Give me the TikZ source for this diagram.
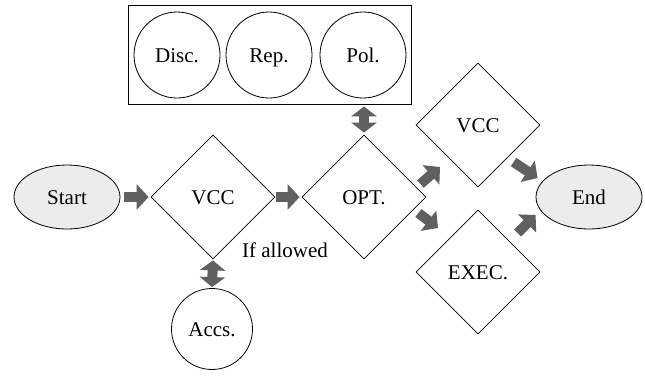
\documentclass[tikz,border=0pt]{standalone}
\usepackage{fontspec}
\setmainfont{Liberation Serif}
\usetikzlibrary{shapes.geometric,arrows.meta}
\definecolor{arrgray}{HTML}{606060}
\definecolor{ellfill}{HTML}{ECECEC}
\begin{document}
\begin{tikzpicture}[x=1pt,y=-1pt,
  every node/.style={font=\fontsize{21}{25}\selectfont},
  txt/.style={text height=18pt,text depth=4pt},
  dia/.style={draw,line width=0.8pt,diamond,aspect=1,inner sep=0pt,minimum width=124pt,minimum height=124pt,txt},
  ell/.style={draw,line width=0.8pt,ellipse,fill=ellfill,inner sep=0pt,minimum width=106pt,minimum height=64pt,txt},
  circ/.style={draw,line width=0.8pt,circle,inner sep=0pt,minimum size=#1,txt},
  blk/.style={draw=arrgray,line width=10pt,-{Triangle[width=25pt,length=12pt]}},
  dbl/.style={draw=arrgray,line width=10pt,{Triangle[width=25pt,length=10pt]}-{Triangle[width=25pt,length=10pt]}}
]
\useasboundingbox (0,0) rectangle (645,376);
% box with circles
\node[draw,line width=0.8pt,minimum width=283pt,minimum height=99pt,inner sep=0pt] (box) at (269.5,54.5) {};
\node[circ=86pt] (disc) at (177,55) {Disc.};
\node[circ=86pt] (rep) at (269,55) {Rep.};
\node[circ=86pt] (pol) at (363,55) {Pol.};
% main flow
\node[ell] (start) at (67,197) {Start};
\node[dia] (vcc1) at (213,197) {VCC};
\node[dia] (opt) at (364,197) {OPT.};
\node[dia] (vcc2) at (478,125) {VCC};
\node[dia] (exec) at (478,272) {EXEC.};
\node[ell] (end) at (589,197) {End};
\node[circ=81pt] (accs) at (212,329) {Accs.};
\node (lbl) at (285,250) {If allowed};
% arrows
\draw[blk,shorten <=4pt,shorten >=2pt] (start) -- (vcc1);
\draw[blk,shorten <=1pt,shorten >=2pt] (vcc1) -- (opt);
\draw[dbl,shorten <=2pt,shorten >=2pt] (opt.north) -- (opt.north |- box.south);
\draw[dbl,shorten <=1pt,shorten >=1pt] (vcc1.south) -- (accs.north);
\draw[blk] ([shift={(-6,-13)}]opt.east) -- ([shift={(-38,42)}]vcc2.center);
\draw[blk] ([shift={(-8,16)}]opt.east) -- ([shift={(-40,-44)}]exec.center);
\draw[blk] ([shift={(-22,-35)}]end.west) -- ([shift={(2,-19)}]end.west);
\draw[blk] ([shift={(-18,36)}]end.west) -- ([shift={(0,18)}]end.west);
\end{tikzpicture}
\end{document}
